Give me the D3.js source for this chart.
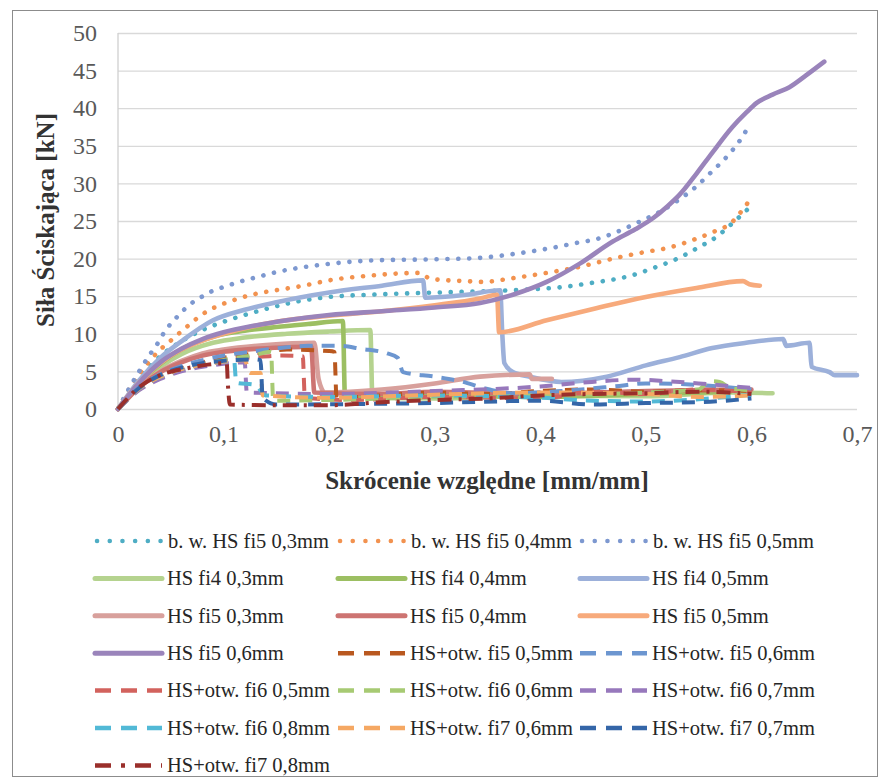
<!DOCTYPE html>
<html>
<head>
<meta charset="utf-8">
<script src="https://cdn.jsdelivr.net/npm/d3@7"></script>
<style>
  body { margin: 0; background: #fff; }
  svg text { font-family: "Liberation Serif", "Times New Roman", serif; }
</style>
</head>
<body>
<script>
// --- dane: [skrócenie, siła] ---
const bwFi5_03 = [[0,0],[0.01,2.2],[0.02,4],[0.03,5.6],[0.04,7],[0.05,8.1],[0.06,9],[0.08,10.5],[0.1,11.6],[0.12,12.5],[0.14,13.3],[0.17,14.3],[0.2,14.9],[0.24,15.2],[0.28,15.4],[0.33,15.6],[0.39,15.9],[0.42,16.2],[0.45,16.8],[0.485,17.7],[0.51,18.9],[0.53,20],[0.55,21.5],[0.567,22.9],[0.582,24.7],[0.596,26.5]];
const bwFi5_04 = [[0,0],[0.01,2.5],[0.02,4.6],[0.03,6.4],[0.04,7.9],[0.05,9.1],[0.065,10.9],[0.08,12.6],[0.09,13.4],[0.11,14.5],[0.13,15.3],[0.15,15.8],[0.172,16.3],[0.204,17.2],[0.236,17.7],[0.286,18.1],[0.296,17.3],[0.33,17],[0.345,16.9],[0.374,17.4],[0.406,18.1],[0.437,18.9],[0.469,20],[0.5,20.9],[0.52,21.4],[0.545,22.5],[0.563,23.5],[0.582,24.9],[0.59,26.2],[0.597,27.5]];
const bwFi5_05 = [[0,0],[0.01,2.6],[0.02,5],[0.03,7.2],[0.037,8.6],[0.042,9.8],[0.048,11],[0.055,12.1],[0.0625,13.2],[0.07,14.1],[0.079,14.9],[0.088,15.6],[0.0975,16.1],[0.108,16.6],[0.117,17],[0.128,17.4],[0.15,18.2],[0.2,19.3],[0.25,19.8],[0.3,19.9],[0.343,20.1],[0.374,20.6],[0.406,21.3],[0.435,22.1],[0.456,22.7],[0.475,23.7],[0.494,24.9],[0.513,26.2],[0.531,27.8],[0.547,29.5],[0.562,31.5],[0.577,33.6],[0.59,35.9],[0.597,37.5]];
const hsFi4_03 = [[0,0],[0.02,3.2],[0.04,5.6],[0.06,7.3],[0.09,8.8],[0.12,9.5],[0.16,10],[0.2,10.3],[0.239,10.5],[0.241,1.5],[0.3,1.4],[0.4,1.8],[0.5,1.7],[0.58,2.2],[0.62,2.1]];
const hsFi4_04 = [[0,0],[0.02,3.4],[0.04,6],[0.06,7.9],[0.09,9.6],[0.12,10.4],[0.15,10.9],[0.18,11.3],[0.213,11.7],[0.215,1.6],[0.3,1.9],[0.4,1.6],[0.5,2],[0.58,2.3]];
const hsFi4_05 = [[0,0],[0.02,3.8],[0.04,6.8],[0.06,9],[0.09,11.8],[0.12,13.2],[0.15,14.2],[0.2,15.5],[0.25,16.4],[0.289,17.1],[0.291,14.8],[0.33,15.2],[0.362,15.8],[0.364,10],[0.366,6.1],[0.374,4.9],[0.39,4.3],[0.42,3.6],[0.463,4.3],[0.5,5.8],[0.532,6.9],[0.563,8.1],[0.595,8.8],[0.63,9.3],[0.633,8.4],[0.655,8.8],[0.657,5.6],[0.674,4.9],[0.679,4.5],[0.7,4.5]];
const hsFi5_03 = [[0,0],[0.02,2.9],[0.04,5],[0.06,6.4],[0.08,7.4],[0.1,7.9],[0.14,8.5],[0.186,8.8],[0.19,4],[0.196,2.2],[0.25,2.6],[0.3,3.4],[0.343,4.3],[0.39,4.6],[0.392,4],[0.411,4]];
const hsFi5_04 = [[0,0],[0.02,2.9],[0.04,4.9],[0.06,6.2],[0.08,7.1],[0.1,7.6],[0.13,8],[0.16,8.2],[0.183,8.3],[0.186,2.2],[0.25,2],[0.3,2.3],[0.4,2],[0.5,2.4],[0.6,2.6]];
const hsFi5_05 = [[0,0],[0.02,3.5],[0.04,6.1],[0.06,7.9],[0.08,9.1],[0.1,10],[0.15,11.6],[0.2,12.4],[0.25,13],[0.3,13.8],[0.343,14.7],[0.359,15.2],[0.361,10.2],[0.406,11.8],[0.453,13.4],[0.5,14.9],[0.548,16.1],[0.592,17],[0.598,16.6],[0.608,16.4]];
const hsFi5_06 = [[0,0],[0.02,3.5],[0.04,6.2],[0.06,8],[0.08,9.3],[0.1,10.2],[0.13,11.1],[0.16,11.8],[0.2,12.5],[0.25,13],[0.3,13.5],[0.343,14.1],[0.374,15.2],[0.406,16.9],[0.437,19.3],[0.469,22.3],[0.49,23.9],[0.507,25.4],[0.52,26.9],[0.532,28.5],[0.548,31.3],[0.563,34.1],[0.582,37.5],[0.595,39.4],[0.605,40.7],[0.62,41.8],[0.636,42.8],[0.652,44.4],[0.669,46.2]];
const otwFi5_05 = [[0,0],[0.02,2.7],[0.04,4.3],[0.06,5.4],[0.08,6.2],[0.1,6.8],[0.13,7.4],[0.16,7.9],[0.2,7.7],[0.205,7.6],[0.207,1.5],[0.25,1.8],[0.3,2.2],[0.35,2],[0.4,2.4],[0.45,2.6],[0.5,2.3],[0.55,2.5],[0.6,2.4]];
const otwFi5_06 = [[0,0],[0.02,2.9],[0.04,4.6],[0.06,5.7],[0.08,6.5],[0.1,7.1],[0.13,7.7],[0.16,8.2],[0.18,8.4],[0.21,8.4],[0.23,8],[0.255,7.4],[0.265,6.8],[0.27,4.9],[0.3,4.3],[0.327,3.6],[0.346,2.8],[0.374,2.1],[0.42,2.4],[0.47,3],[0.5,3.4],[0.55,3.2],[0.6,2.6]];
const otwFi6_05 = [[0,0],[0.02,2.6],[0.04,4.2],[0.06,5.3],[0.08,6],[0.1,6.5],[0.13,6.9],[0.155,7.1],[0.175,7],[0.177,1.5],[0.22,1.2],[0.3,1.6],[0.4,1.4],[0.45,2.3],[0.5,2],[0.55,2.6],[0.6,2.2]];
const otwFi6_06 = [[0,0],[0.02,2.6],[0.04,4.1],[0.06,5.1],[0.08,5.9],[0.1,6.5],[0.13,7.2],[0.145,7.6],[0.147,1.1],[0.2,1.2],[0.3,1.6],[0.4,1.8],[0.5,2.2],[0.55,2.6],[0.56,3.7],[0.57,3.6],[0.58,2.8],[0.6,2.5]];
const otwFi6_07 = [[0,0],[0.02,2.5],[0.04,4],[0.06,5],[0.08,5.6],[0.1,6],[0.12,6.2],[0.122,2.2],[0.2,2],[0.3,2.4],[0.4,3],[0.44,3.5],[0.49,3.9],[0.52,3.7],[0.55,3.4],[0.6,2.8]];
const otwFi6_08 = [[0,0],[0.02,2.7],[0.04,4.3],[0.06,5.3],[0.08,5.9],[0.1,6.3],[0.11,6.4],[0.112,3.5],[0.13,3.2],[0.14,1.8],[0.2,1.6],[0.3,1.8],[0.4,1.5],[0.45,1.1],[0.5,1],[0.55,1.3],[0.6,1.9]];
const otwFi7_06 = [[0,0],[0.02,2.7],[0.04,4.3],[0.06,5.3],[0.08,5.9],[0.1,6.3],[0.12,6.5],[0.125,4.8],[0.135,4.8],[0.137,1.8],[0.2,1.5],[0.3,1.9],[0.4,2.2],[0.5,2],[0.55,1.6],[0.6,1.8]];
const otwFi7_07 = [[0,0],[0.02,2.8],[0.04,4.5],[0.06,5.5],[0.08,6.1],[0.1,6.4],[0.13,6.6],[0.135,6.5],[0.137,1.5],[0.15,0.6],[0.25,0.7],[0.3,0.8],[0.4,1.1],[0.45,0.6],[0.5,0.8],[0.55,0.9],[0.6,1.4]];
const otwFi7_08 = [[0,0],[0.02,2.9],[0.04,4.5],[0.065,5.4],[0.085,5.9],[0.103,6.1],[0.104,3.5],[0.106,0.6],[0.15,0.5],[0.2,0.5],[0.25,0.9],[0.3,1.2],[0.35,1.4],[0.4,1.8],[0.45,2],[0.5,2.1],[0.55,2.3],[0.6,2]];

const seriesNames = [
  "b. w. HS fi5 0,3mm", "b. w. HS fi5 0,4mm", "b. w. HS fi5 0,5mm",
  "HS fi4 0,3mm", "HS fi4 0,4mm", "HS fi4 0,5mm",
  "HS fi5 0,3mm", "HS fi5 0,4mm", "HS fi5 0,5mm",
  "HS fi5 0,6mm", "HS+otw. fi5 0,5mm", "HS+otw. fi5 0,6mm",
  "HS+otw. fi6 0,5mm", "HS+otw. fi6 0,6mm", "HS+otw. fi6 0,7mm",
  "HS+otw. fi6 0,8mm", "HS+otw. fi7 0,6mm", "HS+otw. fi7 0,7mm",
  "HS+otw. fi7 0,8mm"
];
const seriesValues = [
  bwFi5_03, bwFi5_04, bwFi5_05, hsFi4_03, hsFi4_04, hsFi4_05,
  hsFi5_03, hsFi5_04, hsFi5_05, hsFi5_06, otwFi5_05, otwFi5_06,
  otwFi6_05, otwFi6_06, otwFi6_07, otwFi6_08, otwFi7_06, otwFi7_07, otwFi7_08
];
const xTicks = [0, 0.1, 0.2, 0.3, 0.4, 0.5, 0.6, 0.7];
const yTicks = [0, 5, 10, 15, 20, 25, 30, 35, 40, 45, 50];

// style serii
const colors = ["#4eadc4", "#f2924f", "#7d98d0", "#b5d38f", "#9cbf62", "#9cb0da",
  "#d8a09c", "#cd7472", "#f7aa7c", "#9a84bb", "#b9581f", "#6c96d0",
  "#d2625d", "#a7ca73", "#9778bc", "#52b9d6", "#f5a863", "#3466a8", "#9a2f2b"];
const kinds = ["dot", "dot", "dot", "solid", "solid", "solid", "solid", "solid", "solid",
  "solid", "dash", "dash", "dash", "dash", "dash", "dash", "dash", "dash", "dashdot"];
const dashes = { dot: "0.1 10.8", solid: null, dash: "13 9", dashdot: "14 7 3 7" };
const widths = { dot: 4.6, solid: 4.6, dash: 4, dashdot: 4 };
const caps = { dot: "round", solid: "round", dash: "butt", dashdot: "butt" };

const W = 882, H = 780;
const margin = { top: 33, right: 25, bottom: 371, left: 118 },
      width = W - margin.left - margin.right,
      height = H - margin.top - margin.bottom;

const svg = d3.select("body").append("svg")
    .attr("width", W)
    .attr("height", H);

svg.append("rect")
    .attr("x", 12.5).attr("y", 10.5)
    .attr("width", 865).attr("height", 766)
    .attr("fill", "#fff")
    .attr("stroke", "#8c8c8c")
    .attr("stroke-width", 1);

const g = svg.append("g")
    .attr("transform", `translate(${margin.left},${margin.top})`);

const x = d3.scaleLinear().domain([0, 0.7]).range([0, width]);
const y = d3.scaleLinear().domain([0, 50]).range([height, 0]);

const fmt = d => d === 0 ? "0" : d3.format(".1f")(d).replace(".", ",");

// siatka + oś Y
const yAxis = g.append("g")
    .call(d3.axisLeft(y).tickValues(yTicks).tickSize(-width).tickPadding(21))
yAxis.select(".domain").remove();
yAxis.selectAll(".tick line").attr("stroke", "#d9d9d9").attr("stroke-width", 1.3);
yAxis.selectAll(".tick text")
    .attr("fill", "#595959")
    .attr("font-size", 24);

g.append("line")
    .attr("x1", 0).attr("x2", 0)
    .attr("y1", 0).attr("y2", height)
    .attr("stroke", "#d0d0d0").attr("stroke-width", 1.3);

const xAxis = g.append("g")
    .attr("transform", `translate(0,${height})`)
    .call(d3.axisBottom(x).tickValues(xTicks).tickFormat(fmt).tickSize(0).tickPadding(16));
xAxis.select(".domain").remove();
xAxis.selectAll(".tick text")
    .attr("fill", "#595959")
    .attr("font-size", 24);

// linie
const line = d3.line()
    .curve(d3.curveMonotoneX)
    .x(d => x(d[0]))
    .y(d => y(d[1]));

g.append("g")
    .attr("fill", "none")
    .attr("stroke-linejoin", "round")
  .selectAll("path")
  .data(seriesValues)
  .enter().append("path")
    .attr("d", line)
    .attr("stroke", (d, i) => colors[i])
    .attr("stroke-width", (d, i) => widths[kinds[i]])
    .attr("stroke-linecap", (d, i) => caps[kinds[i]])
    .attr("stroke-dasharray", (d, i) => dashes[kinds[i]]);

// tytuły osi
svg.append("text")
    .attr("x", 487).attr("y", 489)
    .attr("text-anchor", "middle")
    .attr("font-size", 25)
    .attr("font-weight", "bold")
    .attr("fill", "#333")
    .text("Skrócenie względne [mm/mm]");

svg.append("text")
    .attr("transform", "translate(45,220) rotate(-90)")
    .attr("text-anchor", "middle")
    .attr("dominant-baseline", "central")
    .attr("font-size", 25)
    .attr("font-weight", "bold")
    .attr("fill", "#333")
    .text("Siła Ściskająca [kN]");

// legenda
const colX = [95, 338, 580];
const legend = svg.append("g")
  .selectAll("g")
  .data(seriesNames)
  .enter().append("g")
    .attr("transform", (d, i) => `translate(${colX[i % 3]},${541 + Math.floor(i / 3) * 37.4})`);

legend.append("line")
    .attr("x1", (d, i) => kinds[i] === "dot" ? 2 : 0)
    .attr("x2", (d, i) => kinds[i] === "dot" ? 66 : 67)
    .attr("stroke", (d, i) => colors[i])
    .attr("stroke-width", (d, i) => kinds[i] === "solid" ? 5 : 4.5)
    .attr("stroke-linecap", (d, i) => caps[kinds[i]])
    .attr("stroke-dasharray", (d, i) => ({ dot: "0.1 12.6", solid: null, dash: "16 10", dashdot: "16 10 4 10" })[kinds[i]]);

legend.append("text")
    .attr("x", (d, i) => kinds[i] === "dot" ? 73 : 72)
    .attr("dy", "0.33em")
    .attr("font-size", 20.5)
    .attr("fill", "#262626")
    .text(d => d);
</script>
</body>
</html>
